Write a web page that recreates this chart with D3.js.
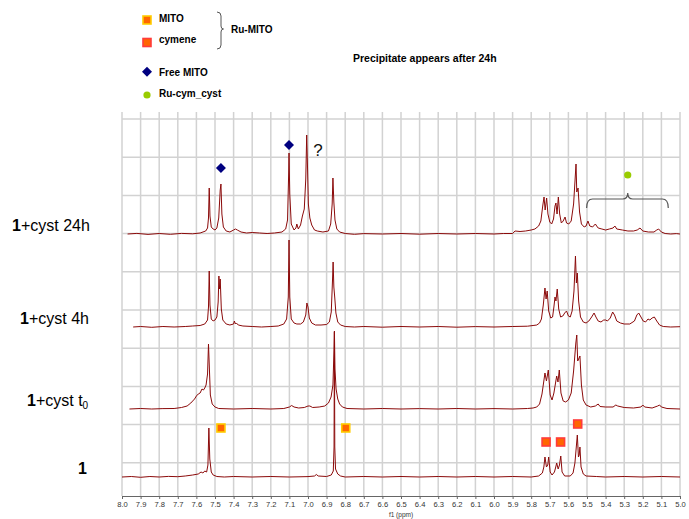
<!DOCTYPE html>
<html><head><meta charset="utf-8">
<script src="https://cdn.jsdelivr.net/npm/d3@7"></script>
<style>body{margin:0;background:#fff} svg{display:block}</style>
</head><body>
<svg id="chart" width="689" height="519"></svg>
<script>
// ---------- DATA ----------
const spectrumNames = ["1+cyst 24h", "1+cyst 4h", "1+cyst t0", "1"];

// [ppm, intensity (a.u.)]
const spec24h = [
[7.97,0],[7.92,0.6],[7.86,-0.4],[7.8,0.5],[7.74,-0.3],[7.68,0.6],[7.62,0.2],[7.58,1],[7.55,3],[7.54,6],[7.535,16],[7.531,46],[7.527,18],[7.52,7],[7.51,5],[7.5,4],[7.49,6],[7.48,16],[7.472,44],[7.468,50],[7.463,20],[7.455,7],[7.44,3],[7.42,2],[7.4,4],[7.39,5],[7.38,4],[7.36,2],[7.33,1],[7.3,1.5],[7.26,1],[7.22,0.5],[7.18,1],[7.14,2],[7.12,5],[7.11,14],[7.104,60],[7.102,81],[7.098,40],[7.09,10],[7.075,4],[7.065,6],[7.06,10],[7.052,5],[7.04,9],[7.03,18],[7.02,25],[7.012,55],[7.007,99],[7.003,70],[6.998,30],[6.99,16],[6.98,9],[6.965,4],[6.95,3],[6.92,2],[6.89,3],[6.878,10],[6.87,30],[6.866,56],[6.861,32],[6.855,14],[6.845,5],[6.83,2],[6.8,0.5],[6.75,-0.3],[6.7,0.4],[6.6,0],[6.5,0.5],[6.4,-0.2],[6.3,0.5],[6.2,0],[6.1,0.5],[6.0,0],[5.95,0.5],[5.9,0.5],[5.887,3],[5.86,2.5],[5.83,3],[5.8,4],[5.78,5],[5.76,8],[5.748,13],[5.738,28],[5.731,37],[5.725,24],[5.717,36],[5.71,20],[5.7,12],[5.69,10],[5.68,15],[5.672,28],[5.667,31],[5.661,20],[5.654,37],[5.647,20],[5.638,11],[5.628,13],[5.618,17],[5.61,11],[5.598,10],[5.585,13],[5.572,30],[5.559,70],[5.555,42],[5.548,46],[5.54,22],[5.53,10],[5.515,7],[5.505,8],[5.495,13],[5.485,8],[5.47,7],[5.455,10],[5.448,8],[5.44,6],[5.42,5],[5.4,4],[5.38,5],[5.36,6],[5.35,8],[5.34,5],[5.31,4],[5.28,3],[5.25,3],[5.23,4],[5.215,6],[5.2,3],[5.17,2],[5.14,2],[5.125,4],[5.115,5],[5.1,2],[5.08,0.5],[5.05,0],[5.02,0.4],[5.0,0]
];
const spec4h = [
[7.94,0],[7.9,0.5],[7.84,-0.3],[7.78,0.5],[7.72,0],[7.66,0.5],[7.62,1],[7.58,1.5],[7.555,3],[7.54,7],[7.535,20],[7.531,56],[7.527,22],[7.52,8],[7.51,6],[7.5,7],[7.49,10],[7.483,25],[7.479,51],[7.476,38],[7.472,48],[7.466,18],[7.458,7],[7.44,3],[7.42,2],[7.4,3],[7.396,6],[7.39,3],[7.385,4],[7.375,2],[7.35,1],[7.3,0.5],[7.25,0],[7.2,0.5],[7.16,1],[7.13,3],[7.115,8],[7.106,30],[7.102,87],[7.098,30],[7.09,8],[7.075,4],[7.06,3],[7.04,3],[7.025,5],[7.012,12],[7.006,24],[7.0,20],[6.993,9],[6.98,4],[6.96,2],[6.93,2],[6.9,2.5],[6.885,5],[6.875,15],[6.868,48],[6.865,65],[6.861,40],[6.856,29],[6.85,14],[6.84,5],[6.825,2],[6.8,0.5],[6.75,0],[6.7,0.5],[6.6,-0.2],[6.5,0.5],[6.4,0],[6.3,0.5],[6.2,-0.2],[6.1,0.4],[6.0,0],[5.9,0.5],[5.82,0.8],[5.79,1.5],[5.77,2],[5.755,4],[5.745,8],[5.735,22],[5.726,39],[5.72,28],[5.714,36],[5.706,16],[5.695,9],[5.685,10],[5.678,20],[5.672,30],[5.667,26],[5.66,38],[5.652,18],[5.642,10],[5.63,11],[5.62,14],[5.61,16],[5.6,11],[5.59,10],[5.58,16],[5.57,36],[5.562,71],[5.557,44],[5.552,54],[5.545,26],[5.535,10],[5.52,5],[5.505,4],[5.49,6],[5.475,10],[5.462,14],[5.452,10],[5.44,6],[5.425,5],[5.41,7],[5.4,7],[5.39,6],[5.375,9],[5.362,15],[5.352,12],[5.34,6],[5.32,4],[5.3,3],[5.27,3],[5.245,6],[5.232,12],[5.222,14],[5.21,10],[5.198,6],[5.185,5],[5.172,8],[5.162,7],[5.15,9],[5.138,10],[5.125,6],[5.11,2],[5.09,0.5],[5.05,0],[5.0,0.3]
];
const specT0 = [
[7.96,0],[7.9,0.5],[7.84,0],[7.78,0.4],[7.72,0.5],[7.68,1.5],[7.65,3],[7.63,6],[7.61,10],[7.6,13],[7.59,15],[7.58,16],[7.57,20],[7.562,19],[7.555,21],[7.548,24],[7.54,35],[7.535,65],[7.531,45],[7.525,14],[7.515,5],[7.5,2],[7.48,0.5],[7.4,0],[7.3,0.5],[7.2,0],[7.13,0.5],[7.1,2],[7.088,3.5],[7.075,2],[7.05,1],[7.02,1.5],[7.0,3],[6.99,3],[6.975,1.5],[6.94,2],[6.91,3],[6.89,6],[6.876,12],[6.866,24],[6.86,60],[6.858,78],[6.855,40],[6.849,20],[6.84,10],[6.83,5],[6.815,2],[6.79,0.5],[6.7,0],[6.6,0.5],[6.5,0],[6.4,0.4],[6.3,0],[6.2,0.5],[6.1,0],[6.0,0.4],[5.9,0],[5.82,0.5],[5.79,1],[5.77,2],[5.755,5],[5.742,15],[5.726,36],[5.718,28],[5.708,39],[5.698,14],[5.688,9],[5.678,16],[5.663,33],[5.656,27],[5.649,39],[5.64,16],[5.628,8],[5.615,7],[5.6,9],[5.585,16],[5.572,38],[5.56,66],[5.555,74],[5.55,48],[5.545,50],[5.538,53],[5.53,24],[5.52,9],[5.505,4],[5.48,2],[5.455,3],[5.44,5],[5.43,2.5],[5.4,2],[5.36,2],[5.345,4],[5.335,3],[5.3,1.5],[5.25,1],[5.21,2],[5.2,4],[5.19,2],[5.15,1],[5.12,3],[5.11,4],[5.1,2],[5.07,0.5],[5.0,0]
];
const spec1 = [
[8.0,0],[7.95,0.5],[7.9,-0.3],[7.85,0.5],[7.8,0],[7.75,0.6],[7.7,0.3],[7.66,1],[7.62,2],[7.59,3],[7.575,5],[7.565,4],[7.555,6],[7.545,5],[7.538,12],[7.533,49],[7.528,18],[7.52,5],[7.51,2],[7.49,0.5],[7.45,0],[7.4,0.5],[7.3,0],[7.2,0.5],[7.1,0],[7.0,0.4],[6.965,1],[6.955,2.5],[6.945,1],[6.9,0.5],[6.875,2],[6.864,6],[6.86,30],[6.858,145],[6.856,30],[6.852,8],[6.84,3],[6.825,1],[6.8,0],[6.7,0.5],[6.6,0],[6.5,0.5],[6.4,0],[6.3,0.5],[6.2,0],[6.1,0.5],[6.0,0],[5.9,0.5],[5.8,0],[5.76,1],[5.74,4],[5.732,10],[5.726,20],[5.718,10],[5.711,12],[5.706,20],[5.698,5],[5.688,2],[5.675,5],[5.668,10],[5.663,14],[5.655,8],[5.648,12],[5.641,21],[5.634,5],[5.62,1],[5.59,1],[5.575,4],[5.565,14],[5.552,42],[5.546,20],[5.542,22],[5.538,30],[5.532,10],[5.52,3],[5.505,1],[5.45,0.5],[5.4,0],[5.3,0.5],[5.2,0],[5.1,0.5],[5.0,0]
];
const spectra = [spec24h, spec4h, specT0, spec1];

const tickValues = [8.0,7.9,7.8,7.7,7.6,7.5,7.4,7.3,7.2,7.1,7.0,6.9,6.8,6.7,6.6,6.5,6.4,6.3,6.2,6.1,6.0,5.9,5.8,5.7,5.6,5.5,5.4,5.3,5.2,5.1,5.0];
const axisTitle = "f1 (ppm)";

const legendLabels = ["MITO", "cymene", "Free MITO", "Ru-cym_cyst"];
const groupLabel = "Ru-MITO";
const noteText = "Precipitate appears after 24h";

// annotations: [ppm, level above the spectrum baseline]
const freeMitoMarks = [[7.468, 66], [7.102, 89]];     // on 24h spectrum
const questionMark = [6.946, 78];                      // on 24h spectrum
const cystMark = [5.281, 59];                          // on 24h spectrum
const cystBrace = [5.502, 5.063, 26];                  // on 24h spectrum
const mitoMarks = [[7.468, 49], [6.797, 49]];          // on spectrum 1
const cymeneMarks = [[5.72, 35], [5.642, 35], [5.55, 53]]; // on spectrum 1

// ---------- LAYOUT ----------
const W = 689, H = 519;
const plotLeft = 122, plotRight = 680, plotTop = 112, axisY = 496;
const baselines = [234, 327, 409, 477];
const labelX = [12, 20, 27, 78];
const hGrid = [119, 157.2, 195.4, 233.6, 271.8, 310, 348.2, 386.4, 424.6, 462.8];
const lineColor = "#8b0a0a";

const svg = d3.select("#chart");
const x = d3.scaleLinear().domain([8.0, 5.0]).range([plotLeft, plotRight]);
const yFor = b => d3.scaleLinear().domain([0, 100]).range([b, b - 100]);

// grid
const grid = svg.append("g");
grid.selectAll("line.v").data(tickValues).join("line")
  .attr("x1", d => x(d)).attr("x2", d => x(d))
  .attr("y1", plotTop).attr("y2", axisY)
  .attr("stroke", "#d2d2d2").attr("stroke-width", 1.5);
grid.selectAll("line.h").data(hGrid).join("line")
  .attr("x1", plotLeft).attr("x2", plotRight)
  .attr("y1", d => d).attr("y2", d => d)
  .attr("stroke", "#d2d2d2").attr("stroke-width", 1.5);

// axis
const axis = d3.axisBottom(x).tickValues(tickValues).tickFormat(d3.format(".1f")).tickSize(3).tickPadding(3);
const ag = svg.append("g").attr("transform", `translate(0,${axisY})`).call(axis);
ag.select(".domain").attr("stroke", "#666");
ag.selectAll(".tick line").attr("stroke", "#666");
ag.selectAll(".tick text").attr("font-family", "Liberation Sans, Arial, sans-serif").attr("font-size", 7.6).attr("fill", "#333");
svg.append("text").attr("x", x(6.5)).attr("y", 517).attr("text-anchor", "middle")
  .attr("font-family", "Liberation Sans, Arial, sans-serif").attr("font-size", 6.5).attr("fill", "#333").text(axisTitle);

// spectra
spectra.forEach((s, i) => {
  const y = yFor(baselines[i]);
  const line = d3.line().x(d => x(d[0])).y(d => y(d[1]));
  svg.append("path").datum(s).attr("d", line)
    .attr("fill", "none").attr("stroke", lineColor).attr("stroke-width", 1).attr("stroke-linejoin", "round");
});

// spectrum labels
spectrumNames.forEach((n, i) => {
  const t = svg.append("text").attr("x", labelX[i]).attr("y", baselines[i] - 3)
    .attr("font-family", "Liberation Sans, Arial, sans-serif").attr("font-size", 16).attr("fill", "#000");
  t.append("tspan").attr("font-weight", "bold").text(n.charAt(0));
  const rest = n.slice(1);
  if (rest.endsWith("t0")) {
    t.append("tspan").text(rest.slice(0, -1));
    t.append("tspan").attr("font-size", 10).attr("dy", 3).text("0");
  } else {
    t.append("tspan").text(rest);
  }
});

// markers
const y24 = yFor(baselines[0]);
const y1 = yFor(baselines[3]);
const diamond = d3.symbol().type(d3.symbolSquare).size(50);
svg.selectAll("path.fm").data(freeMitoMarks).join("path")
  .attr("d", diamond)
  .attr("transform", d => `translate(${x(d[0])},${y24(d[1])}) rotate(45)`)
  .attr("fill", "#000080");
svg.append("text").attr("x", x(questionMark[0])).attr("y", y24(questionMark[1]))
  .attr("text-anchor", "middle").attr("font-family", "Liberation Sans, Arial, sans-serif")
  .attr("font-size", 17).attr("fill", "#111").text("?");
svg.append("circle").attr("cx", x(cystMark[0])).attr("cy", y24(cystMark[1])).attr("r", 3.6).attr("fill", "#99cc00");

// brace (horizontal, opening down)
{
  const xl = x(cystBrace[0]), xr = x(cystBrace[1]), yb = y24(cystBrace[2]);
  const xm = x(cystMark[0]);
  const yt = yb - 9, ytip = yb - 15;
  const p = `M${xl},${yb} Q${xl},${yt} ${xl + 6},${yt} L${xm - 5},${yt} Q${xm},${yt} ${xm},${ytip} Q${xm},${yt} ${xm + 5},${yt} L${xr - 6},${yt} Q${xr},${yt} ${xr},${yb}`;
  svg.append("path").attr("d", p).attr("fill", "none").attr("stroke", "#555").attr("stroke-width", 1.2);
}

function square(sel, data, yS, border) {
  sel.selectAll(null).data(data).join("rect")
    .attr("x", d => x(d[0]) - 4).attr("y", d => yS(d[1]) - 4)
    .attr("width", 8).attr("height", 8)
    .attr("fill", "#ff6600").attr("stroke", border).attr("stroke-width", 1.6);
}
square(svg.append("g"), mitoMarks, y1, "#ffcc00");
square(svg.append("g"), cymeneMarks, y1, "#ff3b3b");

// legend
const lf = "Liberation Sans, Arial, sans-serif";
const lg = svg.append("g").attr("font-family", lf).attr("font-weight", "bold").attr("font-size", 10).attr("fill", "#000");
lg.append("rect").attr("x", 143).attr("y", 16).attr("width", 8).attr("height", 8).attr("fill", "#ff6600").attr("stroke", "#ffcc00").attr("stroke-width", 1.6);
lg.append("rect").attr("x", 143).attr("y", 38.5).attr("width", 8).attr("height", 8).attr("fill", "#ff6600").attr("stroke", "#ff3b3b").attr("stroke-width", 1.6);
lg.append("path").attr("d", diamond).attr("transform", "translate(147,71.7) rotate(45)").attr("fill", "#000080");
lg.append("circle").attr("cx", 147).attr("cy", 95).attr("r", 3.6).attr("fill", "#99cc00");
const legY = [22, 43, 75.5, 97];
legendLabels.forEach((l, i) => lg.append("text").attr("x", 159).attr("y", legY[i]).text(l));
lg.append("path").attr("d", "M217,12 Q221,12 221,16 L221,26 Q221,29 223.5,29 Q221,29 221,32 L221,45 Q221,49 217,49")
  .attr("fill", "none").attr("stroke", "#555").attr("stroke-width", 1);
lg.append("text").attr("x", 231).attr("y", 33).text(groupLabel);
lg.append("text").attr("x", 353).attr("y", 61.5).attr("font-size", 10.5).text(noteText);
</script>
</body></html>
